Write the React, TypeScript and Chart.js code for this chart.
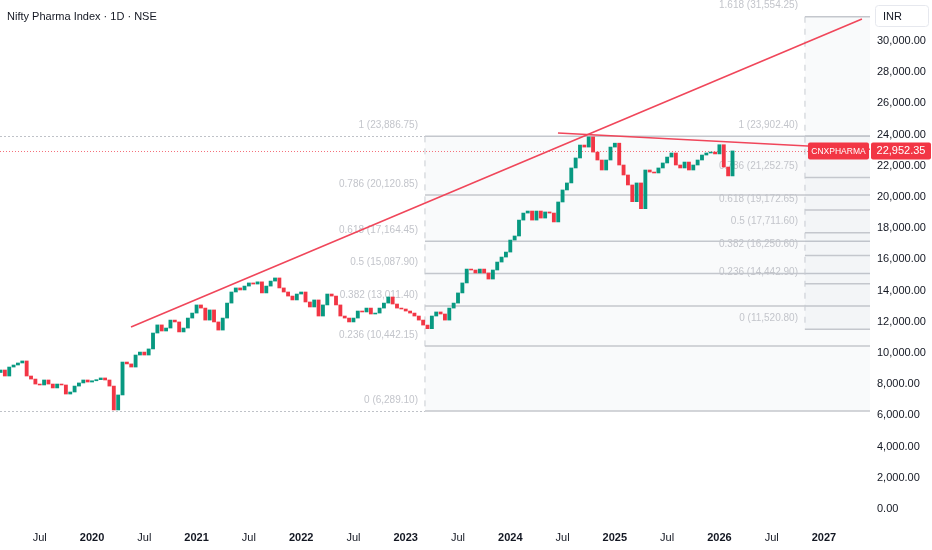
import React, { useEffect, useRef } from "react";
import { Chart, registerables } from "chart.js";

Chart.register(...registerables);

const FONT = "'Liberation Sans', Arial, sans-serif";
const NARROW = "'Liberation Sans Narrow', 'Liberation Sans', Arial, sans-serif";
const TITLE = "Nifty Pharma Index · 1D · NSE";
const SYMBOL = "CNXPHARMA";
const CURRENCY = "INR";

// Half-monthly closes (slot i of a year = year + i/24)
const OPEN_FIRST = 8750;
const FIRST_SLOT_2019 = 3;
const close2019 = [8910, 8525, 9100, 9230, 9360, 9490, 8525, 8330, 8010, 7950, 8270, 8010, 7760, 8010, 7950, 7370, 7500, 7880, 8080, 8270, 8140];
const close2020 = [8220, 8290, 8400, 8270, 7880, 6350, 7310, 9420, 9300, 9100, 9870, 10060, 9870, 10260, 11280, 11800, 11410, 11600, 12110, 11990, 11350, 11600, 12240, 12560];
const close2021 = [13080, 12880, 12110, 12760, 11990, 11470, 12240, 13200, 13910, 14170, 14040, 14290, 14490, 14420, 14560, 13850, 14290, 14610, 14810, 14170, 13910, 13650, 13400, 13780];
const close2022 = [13910, 13270, 12950, 13400, 12370, 13080, 13780, 13650, 13080, 12370, 12240, 11990, 12240, 12690, 12630, 12880, 12500, 12560, 12880, 13200, 13590, 13140, 12880, 12820];
const close2023 = [12690, 12560, 12370, 12110, 11790, 11560, 12370, 12630, 12500, 12110, 12880, 13200, 13850, 14490, 15380, 15320, 15130, 15380, 15130, 14740, 15320, 15830, 16150, 16470];
const close2024 = [17240, 17500, 18520, 18970, 19100, 18520, 19100, 18650, 19040, 18970, 18400, 19680, 20450, 20900, 21860, 22500, 23330, 23200, 23850, 22880, 22370, 21730, 22370, 23200];
const close2025 = [23450, 22050, 21410, 20770, 19700, 20900, 19250, 21730, 21600, 21540, 21860, 22180, 22560, 22820, 22050, 21860, 22240, 21730, 22050, 22370, 22690, 22820, 22880, 22760];
const close2026 = [23350, 21920, 21350, 22952.35];
const LAST_PRICE = 22952.35;

// Fibonacci retracements
const fibRatios1 = [0, 0.236, 0.382, 0.5, 0.618, 0.786, 1];
const fibPrices1 = [6289.1, 10442.15, 13011.4, 15087.9, 17164.45, 20120.85, 23886.75];
const FIB1_TIME = 2023.184;
const fibRatios2 = [0, 0.236, 0.382, 0.5, 0.618, 0.786, 1, 1.618];
const fibPrices2 = [11520.8, 14442.9, 16250.6, 17711.6, 19172.65, 21252.75, 23902.4, 31554.25];
const FIB2_TIME = 2026.818;

// Trend lines
const trendUpTimes = [2020.373, 2027.363];
const trendUpValues = [11667, 31410];
const trendDownTimes = [2024.456, 2027.44];
const trendDownValues = [24103, 23063];

const yTickValues = [0, 2000, 4000, 6000, 8000, 10000, 12000, 14000, 16000, 18000, 20000, 22000, 24000, 26000, 28000, 30000];
const xTickValues = [2019.5, 2020, 2020.5, 2021, 2021.5, 2022, 2022.5, 2023, 2023.5, 2024, 2024.5, 2025, 2025.5, 2026, 2026.5, 2027];

const X_MIN = 2019.12;
const X_MAX = 2027.44;
const Y_MIN = -833;
const Y_MAX = 32627;

const UP = "#089981";
const DOWN = "#f23645";

const fmt = (v: number) =>
  v.toLocaleString("en-US", { minimumFractionDigits: 2, maximumFractionDigits: 2 });

function buildCandles() {
  const years: [number, number[], number][] = [
    [2019, close2019, FIRST_SLOT_2019],
    [2020, close2020, 0],
    [2021, close2021, 0],
    [2022, close2022, 0],
    [2023, close2023, 0],
    [2024, close2024, 0],
    [2025, close2025, 0],
    [2026, close2026, 0],
  ];
  const out: { t: number; o: number; c: number }[] = [];
  let prev = OPEN_FIRST;
  for (const [year, closes, first] of years) {
    closes.forEach((c, i) => {
      out.push({ t: year + (first + i) / 24, o: prev, c });
      prev = c;
    });
  }
  return out;
}

function rrect(ctx: CanvasRenderingContext2D, x: number, y: number, w: number, h: number, r: number) {
  ctx.beginPath();
  if ((ctx as any).roundRect) (ctx as any).roundRect(x, y, w, h, r);
  else ctx.rect(x, y, w, h);
}

function drawFib(
  ctx: CanvasRenderingContext2D,
  chart: any,
  time: number,
  ratios: number[],
  prices: number[],
  extendLeft: boolean
) {
  const a = chart.chartArea;
  const xs = chart.scales.x;
  const ys = chart.scales.y;
  const x0 = xs.getPixelForValue(time);
  const yTop = ys.getPixelForValue(Math.max(...prices));
  const yBot = ys.getPixelForValue(Math.min(...prices));
  ctx.fillStyle = "rgba(120,140,170,0.045)";
  ctx.fillRect(x0, yTop, a.right - x0, yBot - yTop);

  ctx.lineWidth = 1.5;
  ctx.strokeStyle = "#c4c7cd";
  ctx.setLineDash([]);
  prices.forEach((p) => {
    const y = ys.getPixelForValue(p);
    ctx.beginPath();
    ctx.moveTo(x0, y);
    ctx.lineTo(a.right, y);
    ctx.stroke();
  });

  if (extendLeft) {
    ctx.lineWidth = 1;
    ctx.strokeStyle = "#bfc2c8";
    ctx.setLineDash([2, 2]);
    [Math.min(...prices), Math.max(...prices)].forEach((p) => {
      const y = Math.round(ys.getPixelForValue(p)) + 0.5;
      ctx.beginPath();
      ctx.moveTo(a.left, y);
      ctx.lineTo(x0, y);
      ctx.stroke();
    });
  }

  ctx.lineWidth = 1;
  ctx.strokeStyle = "#c8cbd1";
  ctx.setLineDash([6, 6]);
  ctx.beginPath();
  ctx.moveTo(x0, yTop);
  ctx.lineTo(x0, yBot);
  ctx.stroke();
  ctx.setLineDash([]);

  ctx.font = `10px ${FONT}`;
  ctx.fillStyle = "#c3c5cb";
  ctx.textAlign = "right";
  ctx.textBaseline = "middle";
  prices.forEach((p, i) => {
    const y = ys.getPixelForValue(p);
    ctx.fillText(`${ratios[i]} (${fmt(p)})`, x0 - 7, y - 11);
  });
}

const overlayPlugin = {
  id: "overlay",
  beforeDatasetsDraw(chart: any) {
    const { ctx, chartArea: a } = chart;
    ctx.save();
    ctx.beginPath();
    ctx.rect(a.left, a.top, a.right - a.left, a.bottom - a.top);
    ctx.clip();
    drawFib(ctx, chart, FIB1_TIME, fibRatios1, fibPrices1, true);
    drawFib(ctx, chart, FIB2_TIME, fibRatios2, fibPrices2, false);
    const yp = Math.round(chart.scales.y.getPixelForValue(LAST_PRICE)) + 0.5;
    ctx.strokeStyle = "#f5707b";
    ctx.lineWidth = 1;
    ctx.setLineDash([1, 2]);
    ctx.beginPath();
    ctx.moveTo(a.left, yp);
    ctx.lineTo(a.right, yp);
    ctx.stroke();
    ctx.restore();
  },
  afterDraw(chart: any) {
    const { ctx, chartArea: a } = chart;
    ctx.save();
    // title
    ctx.font = `11px ${FONT}`;
    ctx.fillStyle = "#131722";
    ctx.textAlign = "left";
    ctx.textBaseline = "middle";
    ctx.fillText(TITLE, 7, 17);

    // last price labels
    const yp = chart.scales.y.getPixelForValue(LAST_PRICE);
    ctx.fillStyle = DOWN;
    rrect(ctx, a.right - 62, yp - 8.5, 61, 17, 2);
    ctx.fill();
    rrect(ctx, a.right + 1, yp - 8.5, 60, 17, 2);
    ctx.fill();
    ctx.fillStyle = "#ffffff";
    ctx.textAlign = "center";
    let size = 11.5;
    ctx.font = `${size}px ${NARROW}`;
    while (ctx.measureText(SYMBOL).width > 57 && size > 8) {
      size -= 0.5;
      ctx.font = `${size}px ${NARROW}`;
    }
    ctx.fillText(SYMBOL, a.right - 31.5, yp + 0.5);
    ctx.font = `11px ${FONT}`;
    ctx.fillText(fmt(LAST_PRICE), a.right + 31, yp + 0.5);

    // currency box
    ctx.fillStyle = "#ffffff";
    ctx.strokeStyle = "#e6e8ee";
    ctx.lineWidth = 1;
    rrect(ctx, a.right + 5.5, 5.5, 53, 21, 3);
    ctx.fill();
    ctx.stroke();
    ctx.fillStyle = "#131722";
    ctx.textAlign = "left";
    ctx.font = `11px ${FONT}`;
    ctx.fillText(CURRENCY, a.right + 13, 16.5);
    ctx.restore();
  },
};

export default function App() {
  const ref = useRef<HTMLCanvasElement | null>(null);

  useEffect(() => {
    if (!ref.current) return;
    const candles = buildCandles();
    const chart = new Chart(ref.current, {
      type: "bar",
      data: {
        datasets: [
          {
            type: "line",
            data: trendUpTimes.map((t, i) => ({ x: t, y: trendUpValues[i] })),
            borderColor: "#f0465a",
            borderWidth: 1.6,
            pointRadius: 0,
            order: 0,
          } as any,
          {
            type: "line",
            data: trendDownTimes.map((t, i) => ({ x: t, y: trendDownValues[i] })),
            borderColor: "#f0465a",
            borderWidth: 1.6,
            pointRadius: 0,
            order: 0,
          } as any,
          {
            type: "bar",
            data: candles.map((c) => ({ x: c.t, y: [c.o, c.c] })),
            backgroundColor: candles.map((c) => (c.c >= c.o ? UP : DOWN)),
            borderWidth: 0,
            barThickness: 3.2,
            order: 1,
          } as any,
        ],
      },
      options: {
        animation: false,
        responsive: false,
        layout: { padding: 0 },
        plugins: {
          legend: { display: false },
          tooltip: { enabled: false },
        },
        scales: {
          x: {
            type: "linear",
            min: X_MIN,
            max: X_MAX,
            offset: false,
            grid: { display: false, drawTicks: false, offset: false },
            border: { display: false },
            afterBuildTicks: (s: any) => {
              s.ticks = xTickValues.map((v) => ({ value: v }));
            },
            afterFit: (s: any) => {
              s.height = 28;
              s.paddingLeft = 0;
              s.paddingRight = 0;
            },
            ticks: {
              autoSkip: false,
              maxRotation: 0,
              padding: 9,
              color: "#131722",
              font: (ctx: any) => ({
                family: FONT,
                size: 11,
                weight: ctx.tick && Number.isInteger(ctx.tick.value) ? "bold" : "normal",
              }),
              callback: (v: any) => (Number.isInteger(v) ? String(v) : "Jul"),
            },
          },
          y: {
            type: "linear",
            position: "right",
            min: Y_MIN,
            max: Y_MAX,
            grid: { display: false, drawTicks: false },
            border: { display: false },
            afterBuildTicks: (s: any) => {
              s.ticks = yTickValues.map((v) => ({ value: v }));
            },
            afterFit: (s: any) => {
              s.width = 62;
              s.paddingTop = 0;
              s.paddingBottom = 0;
            },
            ticks: {
              padding: 7,
              color: "#131722",
              font: { family: FONT, size: 11 },
              callback: (v: any) => fmt(Number(v)),
            },
          },
        },
      } as any,
      plugins: [overlayPlugin],
    });
    return () => chart.destroy();
  }, []);

  return (
    <div style={{ position: "absolute", left: 0, top: 0, width: 932, height: 550, background: "#ffffff" }}>
      <canvas ref={ref} width={932} height={550} style={{ display: "block" }} />
    </div>
  );
}
